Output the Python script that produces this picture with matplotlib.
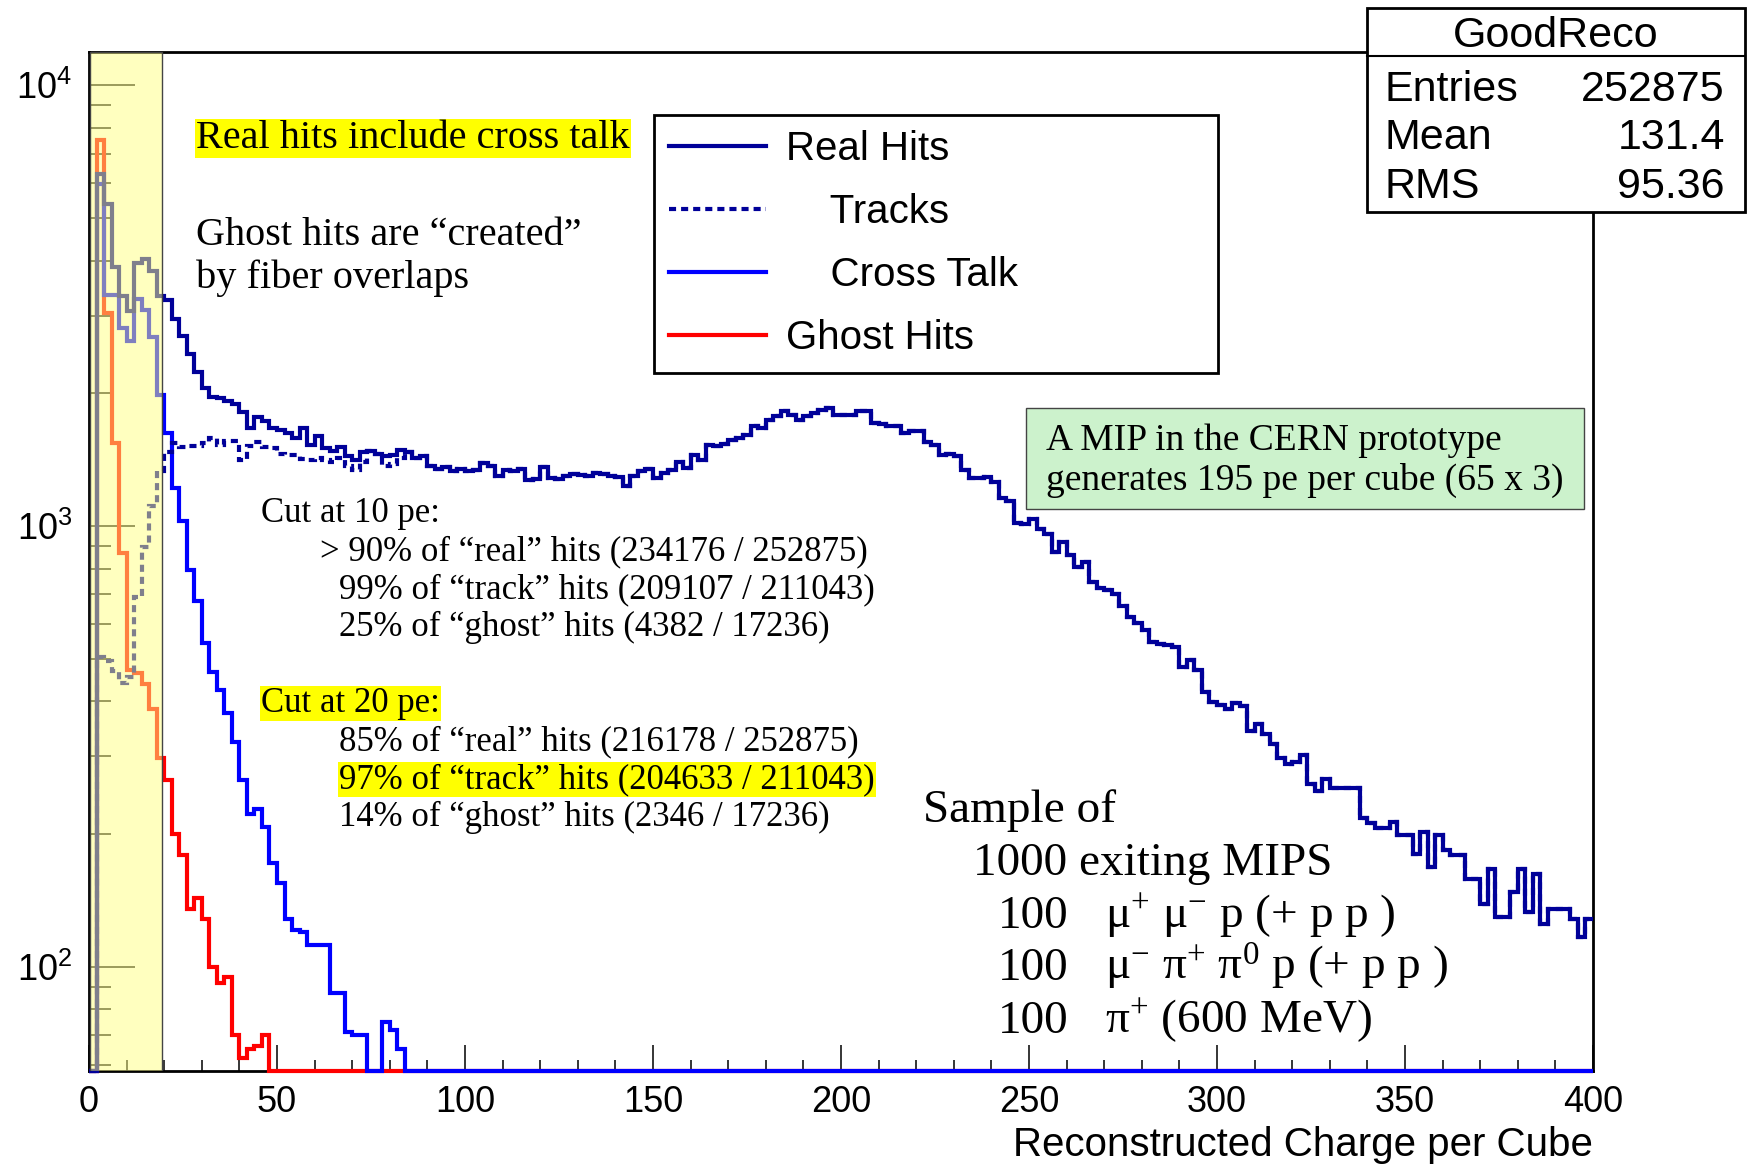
import numpy as np
import matplotlib
matplotlib.use('Agg')
import matplotlib.pyplot as plt
from matplotlib.lines import Line2D
from matplotlib.patches import Rectangle
from matplotlib.ticker import MultipleLocator, LogLocator, NullFormatter

plt.rcParams['font.family'] = 'Liberation Sans'
plt.rcParams['mathtext.fontset'] = 'custom'
plt.rcParams['mathtext.rm'] = 'Liberation Serif'
plt.rcParams['mathtext.it'] = 'Liberation Serif:italic'
plt.rcParams['mathtext.bf'] = 'Liberation Serif:bold'

W, H = 1749, 1165

# 200 bins of 2 pe between 0 and 400
edges = np.arange(0, 402, 2)

real_hits = [
    0, 6300, 5370, 3880, 3320, 3070, 3950, 4025, 3785, 3320,
    3250, 2950, 2700, 2455, 2235, 2053, 1960, 1955, 1923, 1888,
    1818, 1670, 1770, 1735, 1670, 1650, 1625, 1580, 1670, 1523,
    1600, 1500, 1480, 1510, 1440, 1410, 1470, 1480, 1460, 1440,
    1450, 1490, 1470, 1430, 1440, 1370, 1350, 1360, 1330, 1345,
    1330, 1340, 1390, 1370, 1300, 1340, 1330, 1345, 1270, 1280,
    1360, 1285, 1280, 1300, 1310, 1305, 1300, 1320, 1310, 1300,
    1290, 1230, 1300, 1330, 1345, 1282, 1318, 1340, 1400, 1352,
    1449, 1413, 1528, 1520, 1535, 1567, 1580, 1609, 1682, 1670,
    1742, 1773, 1820, 1790, 1742, 1773, 1803, 1836, 1850, 1787,
    1787, 1790, 1820, 1820, 1711, 1700, 1690, 1682, 1622, 1640,
    1640, 1555, 1528, 1449, 1460, 1440, 1340, 1282, 1282, 1290,
    1260, 1160, 1140, 1015, 1010, 1035, 985, 960, 874, 921,
    860, 808, 830, 747, 725, 716, 700, 660, 622, 601,
    580, 546, 541, 538, 532, 479, 496, 471, 420, 399,
    392, 385, 396, 390, 343, 356, 338, 320, 297, 289,
    292, 302, 260, 251, 267, 254, 254, 254, 254, 217,
    212, 206, 206, 213, 199, 199, 180, 202, 168, 199,
    184, 179, 179, 158, 158, 139, 167, 129.5, 129.5, 147.5,
    167, 133, 162.5, 125, 135, 135, 135, 128, 117, 128,
]

# tracks only differ from the real hits in the first bins
tracks_low = [
    0, 505, 495, 470, 440, 455, 690, 895, 1110, 1330,
    1470, 1540, 1510, 1520, 1520, 1540, 1580, 1530, 1560, 1560,
    1410, 1520, 1550, 1510, 1500, 1460, 1450, 1450, 1420, 1410,
    1430, 1410, 1400, 1430, 1370, 1340, 1400, 1480, 1460, 1370,
    1380, 1430, 1470,
]
tracks = tracks_low + real_hits[len(tracks_low):]

cross_talk = [
    0, 5960, 3350, 3350, 2810, 2625, 3270, 3090, 2690, 1985,
    1630, 1220, 1028, 796, 676, 542, 466, 424, 377, 324,
    265, 222, 228, 208, 172, 155, 128, 121, 120, 112,
    112, 112, 87, 87, 71, 70, 70, 0, 0, 75,
    72, 65,
] + [0] * 158

ghost_hits = [
    0, 7530, 3040, 1545, 870, 471, 465, 439, 385, 298,
    265, 200, 179, 135, 143, 128, 100, 92, 95, 70,
    62, 65, 66, 70,
] + [0] * 176

navy = '#000099'
dots = (0, (1.7, 1.2))
ymin, ymax = 58, 11900

fig = plt.figure(figsize=(W / 100, H / 100), dpi=100)
ax = fig.add_axes([89 / W, 1 - 1071 / H, (1593 - 89) / W, (1071 - 52) / H])


def draw_hist(vals, **kw):
    # empty bins sit on the bottom of the frame like in ROOT
    v = np.clip(np.asarray(vals, dtype=float), ymin, None)
    ax.stairs(v, edges, baseline=None, clip_on=False, lw=3.0, zorder=3, **kw)


draw_hist(ghost_hits, color='#ff0000')
draw_hist(cross_talk, color='#0000ff')
draw_hist(tracks, color=navy, linestyle=dots)
draw_hist(real_hits, color=navy)

ax.set_yscale('log')
ax.set_xlim(0, 400)
ax.set_ylim(ymin, ymax)

# low charge region below the cut
ax.axvspan(0.3, 19.3, facecolor=(1, 1, 0.5, 0.5), edgecolor='#444444', lw=1, zorder=4)

for s in ax.spines.values():
    s.set_linewidth(2)
ax.xaxis.set_major_locator(MultipleLocator(50))
ax.xaxis.set_minor_locator(MultipleLocator(10))
ax.yaxis.set_major_locator(LogLocator(base=10))
ax.yaxis.set_minor_locator(LogLocator(base=10, subs=np.arange(2, 10)))
ax.yaxis.set_minor_formatter(NullFormatter())
ax.tick_params(axis='both', which='both', direction='in', width=1.1,
               top=False, right=False, labelsize=26)
ax.tick_params(axis='x', which='major', length=19, pad=10)
ax.tick_params(axis='x', which='minor', length=8)
ax.tick_params(axis='y', which='major', length=33, pad=12)
ax.tick_params(axis='y', which='minor', length=16)

ax.set_xlabel('Reconstructed Charge per Cube', fontsize=29, ha='right')
ax.xaxis.set_label_coords(1.0, -0.054)

handles = [
    Line2D([], [], color=navy, lw=3.0),
    Line2D([], [], color=navy, lw=3.0, linestyle=dots),
    Line2D([], [], color='#0000ff', lw=3.0),
    Line2D([], [], color='#ff0000', lw=3.0),
]
labels = ['Real Hits', '    Tracks', '    Cross Talk', 'Ghost Hits']
leg = ax.legend(handles, labels, loc='upper left',
                bbox_to_anchor=(0.3757, 0.9382, 0.375, 0.0), mode='expand',
                fontsize=29, fancybox=False, framealpha=1, edgecolor='black',
                borderpad=0.38, labelspacing=0.62, handlelength=2.4,
                handletextpad=0.5, borderaxespad=0)
leg.get_frame().set_linewidth(2)
leg.set_zorder(6)


def fx(x):
    return x / W


def fy(y):
    return 1 - y / H


# statistics box
fig.patches.append(Rectangle((fx(1367), fy(212)), (1745 - 1367) / W, (212 - 8) / H,
                             transform=fig.transFigure, facecolor='white',
                             edgecolor='black', lw=2, zorder=5))
fig.lines.append(Line2D([fx(1367), fx(1745)], [fy(56), fy(56)],
                        transform=fig.transFigure, color='black', lw=1.5, zorder=6))
fig.text(fx(1556), fy(36), 'GoodReco', fontsize=31, ha='center', va='center', zorder=7)
stats = [('Entries', '252875', 90), ('Mean', '131.4', 138), ('RMS', '95.36', 187)]
for name, val, yy in stats:
    fig.text(fx(1385), fy(yy), name, fontsize=31, ha='left', va='center', zorder=7)
    fig.text(fx(1725), fy(yy), val, fontsize=31, ha='right', va='center', zorder=7)

serif = ['Liberation Serif', 'DejaVu Serif']

fig.text(fx(196), fy(148), 'Real hits include cross talk', family=serif, fontsize=29,
         va='baseline', bbox=dict(boxstyle='square,pad=0.03', facecolor='#ffff00', edgecolor='none'))
fig.text(fx(196), fy(245), 'Ghost hits are \u201ccreated\u201d', family=serif, fontsize=29, va='baseline')
fig.text(fx(196), fy(288), 'by fiber overlaps', family=serif, fontsize=29, va='baseline')

cut_lines = [
    (261, 522, 'Cut at 10 pe:', False),
    (320, 560, '> 90% of \u201creal\u201d hits (234176 / 252875)', False),
    (339, 598, '99% of \u201ctrack\u201d hits (209107 / 211043)', False),
    (339, 636, '25% of \u201cghost\u201d hits (4382 / 17236)', False),
    (261, 712, 'Cut at 20 pe:', True),
    (339, 750, '85% of \u201creal\u201d hits (216178 / 252875)', False),
    (339, 788, '97% of \u201ctrack\u201d hits (204633 / 211043)', True),
    (339, 826, '14% of \u201cghost\u201d hits (2346 / 17236)', False),
]
for x, y, s, hl in cut_lines:
    box = dict(boxstyle='square,pad=0.03', facecolor='#ffff00', edgecolor='none') if hl else None
    fig.text(fx(x), fy(y), s, family=serif, fontsize=25, va='baseline', bbox=box)

# MIP note
fig.patches.append(Rectangle((fx(1026), fy(509)), (1584 - 1026) / W, (509 - 408) / H,
                             transform=fig.transFigure, facecolor='#ccf2cc',
                             edgecolor='#444444', lw=1, zorder=5))
fig.text(fx(1046), fy(450), 'A MIP in the CERN prototype', family=serif, fontsize=27,
         va='baseline', zorder=7)
fig.text(fx(1046), fy(490), 'generates 195 pe per cube (65 x 3)', family=serif, fontsize=27,
         va='baseline', zorder=7)

# event sample
fig.text(fx(923), fy(822), 'Sample of', family=serif, fontsize=34, va='baseline')
fig.text(fx(973), fy(875), '1000 exiting MIPS', family=serif, fontsize=34, va='baseline')
samples = [
    (928, '\u03bc$^{+}$ \u03bc$^{-}$ p (+ p p )'),
    (980, '\u03bc$^{-}$ \u03c0$^{+}$ \u03c0$^{0}$ p (+ p p )'),
    (1033, '\u03c0$^{+}$ (600 MeV)'),
]
for y, s in samples:
    fig.text(fx(998), fy(y), '100', family=serif, fontsize=34, va='baseline')
    fig.text(fx(1105), fy(y), s, family=serif, fontsize=34, va='baseline')

fig.savefig('out.png', dpi=100)
